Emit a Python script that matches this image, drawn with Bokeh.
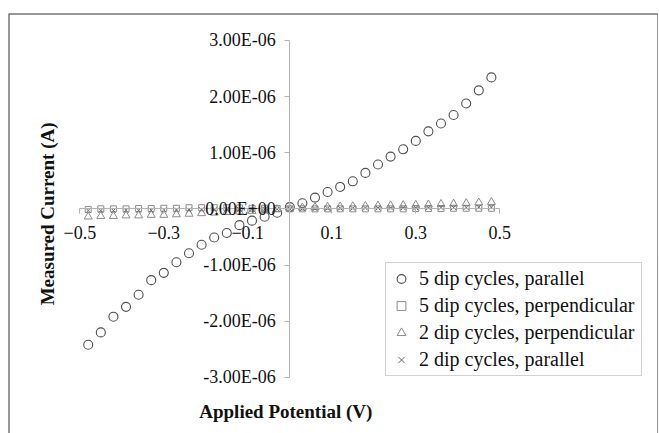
from math import pi
from bokeh.plotting import figure
from bokeh.models import (Range1d, FixedTicker, CustomJSTickFormatter, Label,
                          Legend, LegendItem, BoxAnnotation)
from bokeh.embed import file_html
from bokeh.resources import INLINE

# ---------------- data ----------------
potential_v = [-0.48, -0.45, -0.42, -0.39, -0.36, -0.33, -0.30, -0.27, -0.24,
               -0.21, -0.18, -0.15, -0.12, -0.09, -0.06, -0.03, 0.00, 0.03,
               0.06, 0.09, 0.12, 0.15, 0.18, 0.21, 0.24, 0.27, 0.30, 0.33,
               0.36, 0.39, 0.42, 0.45, 0.48]

five_dip_parallel = [-2.42e-06, -2.20e-06, -1.92e-06, -1.745e-06, -1.53e-06,
                     -1.27e-06, -1.14e-06, -0.95e-06, -0.79e-06, -0.64e-06,
                     -0.51e-06, -0.43e-06, -0.29e-06, -0.21e-06, -0.14e-06,
                     -0.07e-06, 0.03e-06, 0.10e-06, 0.20e-06, 0.30e-06,
                     0.39e-06, 0.49e-06, 0.64e-06, 0.79e-06, 0.93e-06,
                     1.06e-06, 1.21e-06, 1.38e-06, 1.52e-06, 1.67e-06,
                     1.875e-06, 2.11e-06, 2.34e-06]

five_dip_perpendicular = [-0.01e-06, 0.0, 0.0, 0.0, 0.005e-06, 0.005e-06,
                          0.01e-06, 0.01e-06, 0.02e-06, 0.02e-06, 0.02e-06,
                          0.02e-06, 0.015e-06, 0.01e-06, 0.01e-06, 0.005e-06,
                          0.0, 0.0, 0.0, 0.0, 0.0, 0.0, 0.0, 0.0, 0.0, 0.0,
                          0.005e-06, 0.005e-06, 0.005e-06, 0.01e-06, 0.01e-06,
                          0.01e-06, 0.01e-06]

two_dip_perpendicular = [-0.14e-06, -0.13e-06, -0.13e-06, -0.12e-06, -0.12e-06,
                         -0.11e-06, -0.11e-06, -0.10e-06, -0.09e-06, -0.08e-06,
                         -0.07e-06, -0.06e-06, -0.05e-06, -0.04e-06, -0.03e-06,
                         -0.01e-06, 0.0, 0.02e-06, 0.03e-06, 0.035e-06,
                         0.04e-06, 0.045e-06, 0.05e-06, 0.055e-06, 0.06e-06,
                         0.065e-06, 0.07e-06, 0.075e-06, 0.085e-06, 0.09e-06,
                         0.10e-06, 0.11e-06, 0.12e-06]

two_dip_parallel = [-0.03e-06, -0.03e-06, -0.03e-06, -0.025e-06, -0.025e-06,
                    -0.025e-06, -0.02e-06, -0.02e-06, -0.02e-06, -0.015e-06,
                    -0.015e-06, -0.01e-06, -0.01e-06, -0.01e-06, -0.005e-06,
                    -0.005e-06, 0.0, 0.005e-06, 0.005e-06, 0.01e-06, 0.01e-06,
                    0.01e-06, 0.015e-06, 0.015e-06, 0.015e-06, 0.02e-06,
                    0.02e-06, 0.02e-06, 0.025e-06, 0.025e-06, 0.025e-06,
                    0.03e-06, 0.03e-06]

series_labels = ["5 dip cycles, parallel", "5 dip cycles, perpendicular",
                 "2 dip cycles, perpendicular", "2 dip cycles, parallel"]

x_ticks = [-0.5, -0.3, -0.1, 0.1, 0.3, 0.5]
y_ticks = [-3e-06, -2e-06, -1e-06, 0.0, 1e-06, 2e-06, 3e-06]

x_title = "Applied Potential (V)"
y_title = "Measured Current (A)"

# ---------------- figure ----------------
FONT = "Liberation Serif"
X_START, X_END = -0.6698, 0.8779
Y_START, Y_END = -4.0e-06, 3.478e-06

p = figure(width=658, height=433, output_backend="svg", toolbar_location=None,
           x_range=Range1d(X_START, X_END), y_range=Range1d(Y_START, Y_END),
           min_border_left=8, min_border_right=0, min_border_top=13,
           min_border_bottom=0)
p.xgrid.visible = False
p.ygrid.visible = False
p.outline_line_color = None
p.background_fill_color = "white"
p.border_fill_color = "white"

# chart-area frame (open at the bottom like the cropped reference);
# half of the 2px stroke is clipped by the frame, leaving a crisp 1px edge
p.add_layout(BoxAnnotation(bottom=Y_START - 2e-06, fill_color=None,
                           fill_alpha=0, line_color="#333333", line_alpha=1.0,
                           line_width=2, level="underlay"))

AXIS_GREY = "#b3b3b3"
for ax in (p.xaxis[0], p.yaxis[0]):
    ax.fixed_location = 0
    ax.axis_line_color = AXIS_GREY
    ax.major_tick_line_color = AXIS_GREY
    ax.minor_tick_line_color = None
    ax.major_tick_in = 0
    ax.major_tick_out = 5
    ax.major_label_text_font = FONT
    ax.major_label_text_font_size = "18px"
    ax.major_label_text_color = "#111111"

p.xaxis[0].ticker = FixedTicker(ticks=x_ticks, minor_ticks=[])
p.xaxis[0].bounds = (x_ticks[0], x_ticks[-1])
p.xaxis[0].major_label_standoff = 12

p.yaxis[0].ticker = FixedTicker(ticks=y_ticks, minor_ticks=[])
p.yaxis[0].bounds = (y_ticks[0], y_ticks[-1])
p.yaxis[0].major_label_standoff = 9
p.yaxis[0].formatter = CustomJSTickFormatter(code="""
const s = tick.toExponential(2).toUpperCase();
const i = s.indexOf("E");
const mant = s.slice(0, i);
const sign = s[i + 1];
let ex = s.slice(i + 2);
if (ex.length < 2) { ex = "0" + ex; }
return mant + "E" + sign + ex;
""")

# ---------------- series ----------------
r1 = p.scatter(potential_v, five_dip_parallel, marker="circle", size=9,
               fill_color=None, line_color="#505050", line_width=1.1)
r2 = p.scatter(potential_v, five_dip_perpendicular, marker="square", size=6,
               fill_color=None, line_color="#8c8c8c", line_width=1)
r3 = p.scatter(potential_v, two_dip_perpendicular, marker="triangle", size=8,
               fill_color=None, line_color="#8c8c8c", line_width=1)
r4 = p.scatter(potential_v, two_dip_parallel, marker="x", size=7,
               fill_color=None, line_color="#6a6a6a", line_width=1)

legend = Legend(items=[LegendItem(label=series_labels[0], renderers=[r1]),
                       LegendItem(label=series_labels[1], renderers=[r2]),
                       LegendItem(label=series_labels[2], renderers=[r3]),
                       LegendItem(label=series_labels[3], renderers=[r4])],
                location=(377, 57))
legend.label_text_font = FONT
legend.label_text_font_size = "20px"
legend.label_text_color = "#111111"
legend.glyph_width = 22
legend.glyph_height = 23
legend.label_height = 23
legend.label_width = 218
legend.label_standoff = 7
legend.spacing = 4
legend.padding = 4
legend.margin = 0
legend.border_line_color = "#a6a6a6"
legend.border_line_width = 1
legend.background_fill_color = "white"
legend.background_fill_alpha = 1.0
p.add_layout(legend)

# ---------------- axis titles ----------------
p.add_layout(Label(x=-0.0095, y=-3.61e-06, text=x_title, text_font=FONT,
                   text_font_style="bold", text_font_size="19px",
                   text_align="center", text_baseline="middle",
                   text_color="#111111"))
p.add_layout(Label(x=-0.576, y=-0.09e-06, text=y_title, text_font=FONT,
                   text_font_style="bold", text_font_size="19px",
                   text_align="center", text_baseline="middle", angle=pi / 2,
                   text_color="#111111"))

open("out.html", "w").write(file_html(p, INLINE))
